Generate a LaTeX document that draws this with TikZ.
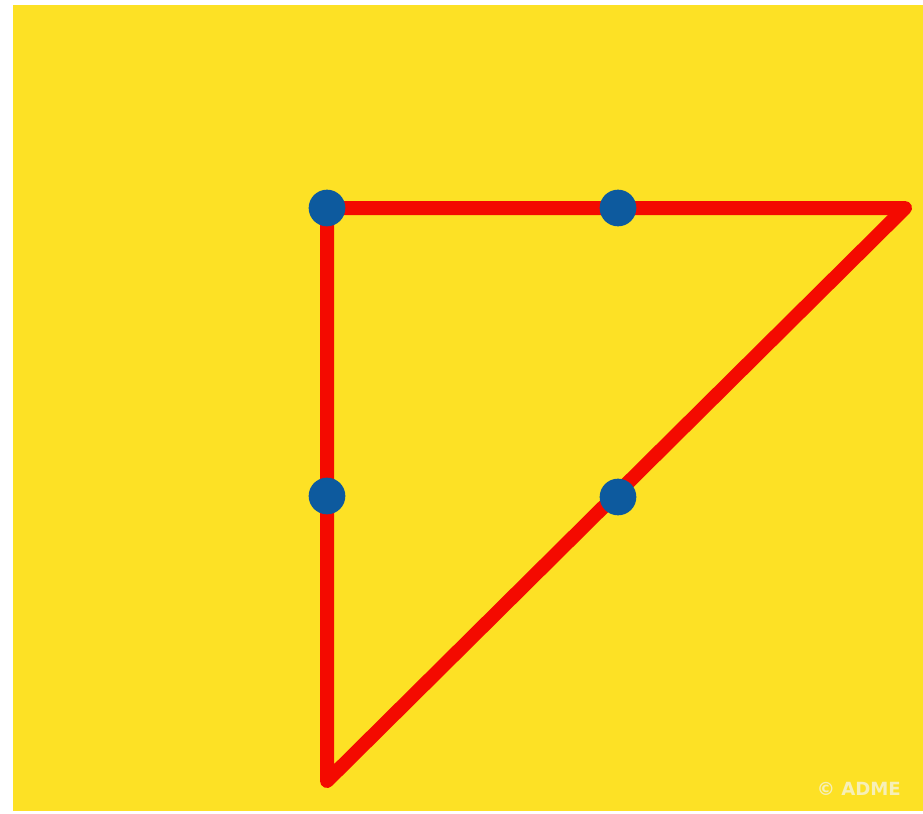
\documentclass[tikz,border=0pt]{standalone}
\usepackage{fontspec}
\setsansfont{DejaVu Sans}
\usepackage{tikz}
\definecolor{PuzzleYellow}{HTML}{FDE125}
\definecolor{PuzzleRed}{HTML}{F40A00}
\definecolor{PuzzleBlue}{HTML}{0D5A9E}
\definecolor{PuzzleMark}{HTML}{F6EFB8}

\begin{document}
\begin{tikzpicture}[
      x=0.03cm,y=-0.03cm,
      dot/.style={circle,fill=PuzzleBlue,minimum size=1.1cm,inner sep=0pt},
      stroke/.style={draw=PuzzleRed,line width=0.42cm,line cap=round,line join=round},
      markfont/.style={anchor=east,font=\sffamily\bfseries\fontsize{15.5}{16}\selectfont}
    ]
      \useasboundingbox[fill=white] (0,0) rectangle (923,814);
      \fill[PuzzleYellow] (13,5) rectangle (923,811);

      \coordinate (topleft) at (327,208);
      \coordinate (topright) at (905,208);
      \coordinate (bottom) at (327,781);

      \draw[stroke] (bottom) -- (topleft) -- (topright) -- cycle;

      \node[dot] (dotA) at (327,208) {};
      \node[dot] (dotB) at (618,208) {};
      \node[dot] (dotC) at (327,496) {};
      \node[dot] (dotD) at (618,497) {};

      \node[markfont,text=PuzzleMark] (mark) at (905,789) {© ADME};
    \end{tikzpicture}
\end{document}
